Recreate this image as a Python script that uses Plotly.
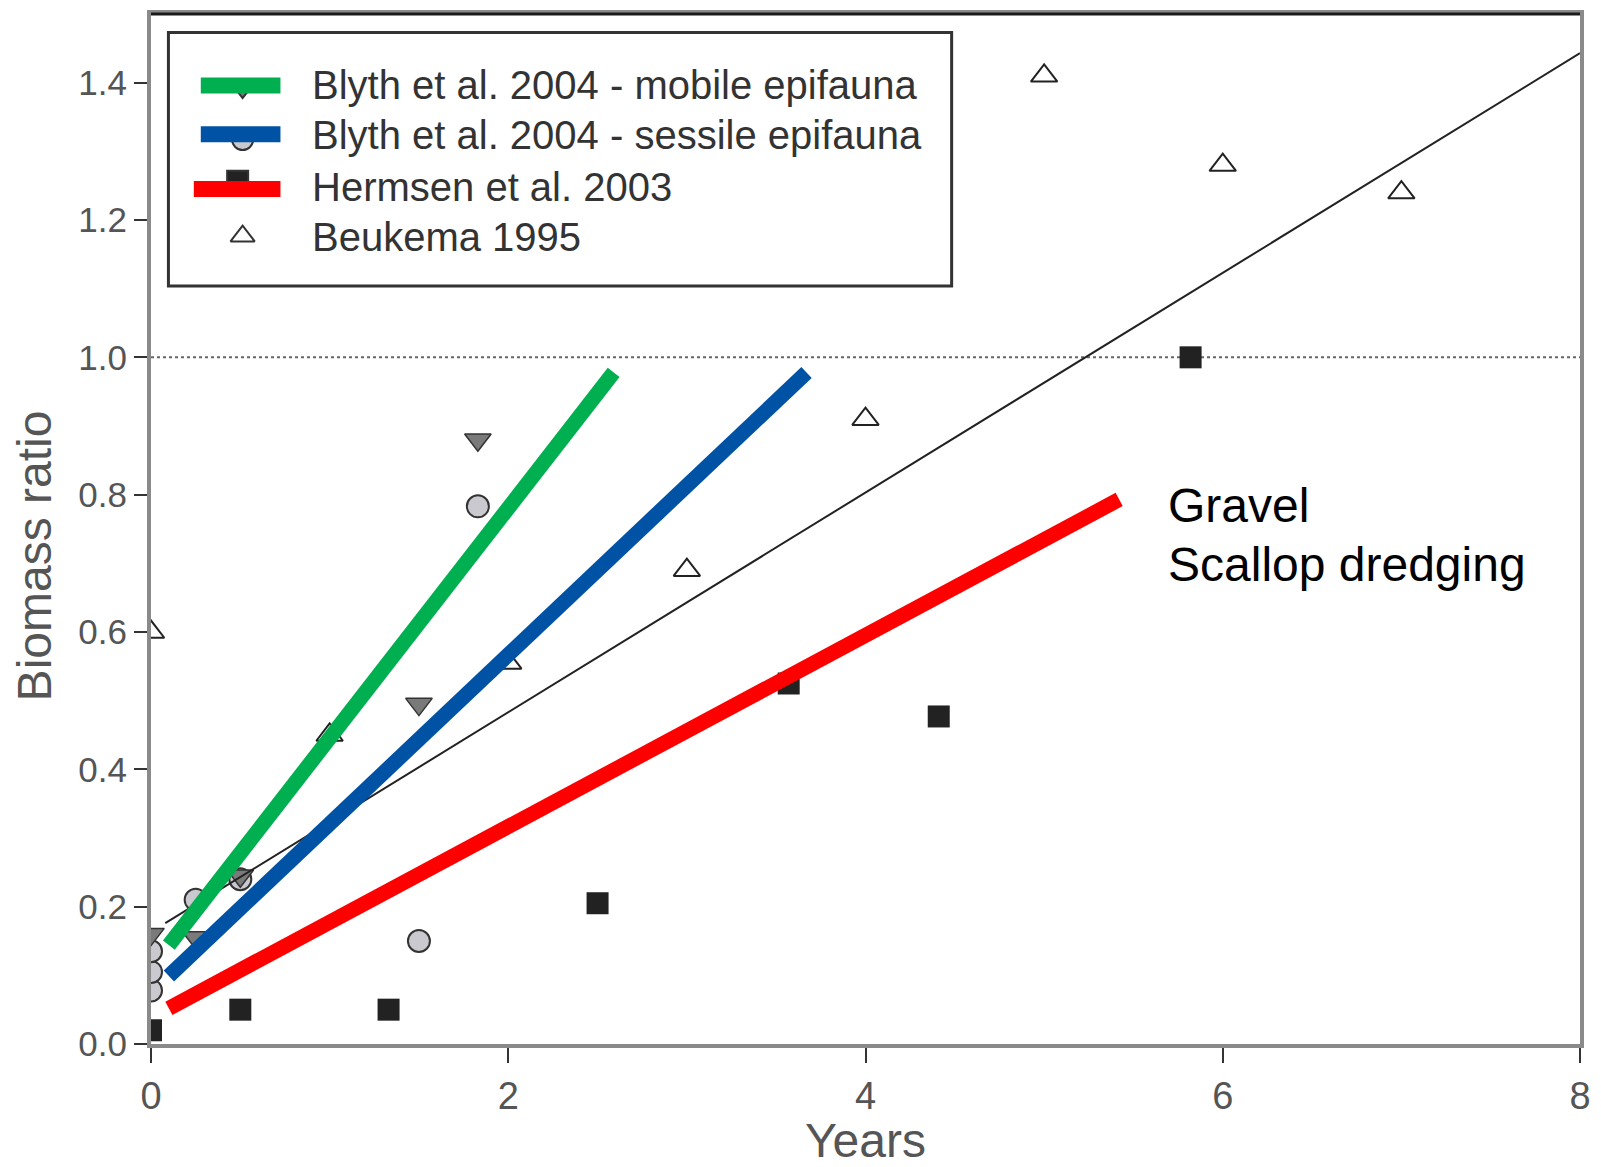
import plotly.graph_objects as go

# ---------------- data ----------------
beuk_x = [0.0, 1.0, 2.0, 3.0, 4.0, 5.0, 6.0, 7.0]
beuk_y = [0.60, 0.45, 0.555, 0.69, 0.91, 1.41, 1.28, 1.24]

mobile_x = [0.0, 0.25, 0.5, 1.5, 1.83]
mobile_y = [0.16, 0.155, 0.245, 0.495, 0.88]

sessile_x = [0.0, 0.0, 0.0, 0.25, 0.5, 1.5, 1.83]
sessile_y = [0.078, 0.105, 0.135, 0.21, 0.24, 0.15, 0.783]

hermsen_x = [0.0, 0.5, 1.33, 2.5, 3.57, 4.41, 5.82]
hermsen_y = [0.02, 0.05, 0.05, 0.205, 0.525, 0.477, 1.0]

fit_x = [0.08, 8.0]
fit_y = [0.176, 1.443]

green_x = [0.10, 2.59]
green_y = [0.144, 0.978]
blue_x = [0.10, 3.67]
blue_y = [0.099, 0.978]
red_x = [0.10, 5.42]
red_y = [0.052, 0.793]

ref_x = [0.0, 8.0]
ref_y = [1.0, 1.0]

x_ticks = [0, 2, 4, 6, 8]
y_ticks = [0.0, 0.2, 0.4, 0.6, 0.8, 1.0, 1.2, 1.4]
y_ticktext = ["0.0", "0.2", "0.4", "0.6", "0.8", "1.0", "1.2", "1.4"]

legend_labels = ["Blyth et al. 2004 - mobile epifauna",
                 "Blyth et al. 2004 - sessile epifauna",
                 "Hermsen et al. 2003",
                 "Beukema 1995"]
annot_lines = ["Gravel", "Scallop dredging"]

# ---------------- figure ----------------
W, H = 1601, 1167
ML, MR, MT, MB = 151, 15, 10, 123
PW, PH = W - ML - MR, H - MT - MB


def px(fx):
    return (fx - ML) / PW


def py(fy):
    return (H - MB - fy) / PH


GREEN = "#00B050"
BLUE = "#0052A5"
RED = "#FF0000"
FONT = "Arial, Liberation Sans, sans-serif"

fig = go.Figure()

# dotted reference line
fig.add_trace(go.Scatter(x=ref_x, y=ref_y, mode="lines",
                         line=dict(color="#666666", width=2, dash="dot"),
                         hoverinfo="skip"))

# markers
fig.add_trace(go.Scatter(x=beuk_x, y=beuk_y, mode="markers",
                         marker=dict(symbol="triangle-up", size=23, color="white",
                                     line=dict(color="#222222", width=2))))
fig.add_trace(go.Scatter(x=sessile_x, y=sessile_y, mode="markers",
                         marker=dict(symbol="circle", size=22, color="#C9C9CF",
                                     line=dict(color="#333333", width=2))))
fig.add_trace(go.Scatter(x=mobile_x, y=mobile_y, mode="markers",
                         marker=dict(symbol="triangle-down", size=23, color="#7A7A7A",
                                     line=dict(color="#333333", width=1.5))))
fig.add_trace(go.Scatter(x=hermsen_x, y=hermsen_y, mode="markers",
                         marker=dict(symbol="square", size=22, color="#222222",
                                     line=dict(color="#222222", width=0))))

# regression line (thin black)
fig.add_trace(go.Scatter(x=fit_x, y=fit_y, mode="lines",
                         line=dict(color="#222222", width=2)))

# thick coloured lines
for xs, ys, c in [(green_x, green_y, GREEN), (blue_x, blue_y, BLUE), (red_x, red_y, RED)]:
    fig.add_trace(go.Scatter(x=xs, y=ys, mode="lines", line=dict(color=c, width=15)))

# legend markers on an overlay axis in plot fraction coordinates
leg_mx = [px(243), px(243), px(238), px(243)]
leg_my = [py(84), py(136), py(178), py(233)]
leg_sym = ["triangle-down", "circle", "square", "triangle-up"]
leg_col = ["#7A7A7A", "#C9C9CF", "#222222", "white"]
fig.add_trace(go.Scatter(x=leg_mx, y=leg_my, mode="markers", xaxis="x2", yaxis="y2",
                         marker=dict(symbol=leg_sym, size=21, color=leg_col,
                                     line=dict(color="#333333", width=2))))

shapes = []
# legend box
shapes.append(dict(type="rect", xref="paper", yref="paper",
                   x0=px(168.5), x1=px(955), y0=py(283), y1=py(28.6),
                   line=dict(color="#333333", width=3), fillcolor="white", layer="below"))
# legend lines
for (x0, x1, yy, c) in [(201, 281, 81.7, GREEN), (201, 281, 130.7, BLUE), (194, 281, 185.8, RED)]:
    shapes.append(dict(type="line", xref="paper", yref="paper",
                       x0=px(x0), x1=px(x1), y0=py(yy), y1=py(yy),
                       line=dict(color=c, width=16), layer="above"))
# top frame line
shapes.append(dict(type="line", xref="paper", yref="paper", x0=0, x1=1, y0=1, y1=1,
                   line=dict(color="#1a1a1a", width=3), layer="above"))

annotations = []
for lab, yy in zip(legend_labels, [81.7, 131.7, 183.8, 233.8]):
    annotations.append(dict(text=lab, xref="paper", yref="paper", x=px(311), y=py(yy),
                            xanchor="left", yanchor="middle", showarrow=False,
                            font=dict(family=FONT, size=40, color="#333333")))
annotations.append(dict(text=annot_lines[0], x=5.68, y=0.784, xref="x", yref="y",
                        xanchor="left", yanchor="middle", showarrow=False,
                        font=dict(family=FONT, size=48, color="black")))
annotations.append(dict(text=annot_lines[1], x=5.68, y=0.699, xref="x", yref="y",
                        xanchor="left", yanchor="middle", showarrow=False,
                        font=dict(family=FONT, size=48, color="black")))
annotations.append(dict(text="Biomass ratio", xref="paper", yref="paper", x=px(34), y=py(554),
                        xanchor="center", yanchor="middle", textangle=-90, showarrow=False,
                        font=dict(family=FONT, size=48, color="#555555")))
annotations.append(dict(text="Years", xref="paper", yref="paper", x=px(868), y=py(1141),
                        xanchor="center", yanchor="middle", showarrow=False,
                        font=dict(family=FONT, size=48, color="#555555")))

fig.update_layout(
    width=W, height=H,
    margin=dict(l=ML, r=MR, t=MT, b=MB, pad=0),
    paper_bgcolor="white", plot_bgcolor="white",
    showlegend=False,
    shapes=shapes, annotations=annotations,
    xaxis=dict(range=[0, 8], tickvals=x_ticks, ticks="outside", ticklen=15, tickwidth=2,
               tickcolor="#333333", showline=True, linecolor="#8a8a8a", linewidth=4,
               mirror=True, showgrid=False, zeroline=False,
               tickfont=dict(family=FONT, size=38, color="#555555")),
    yaxis=dict(range=[0, 1.5], tickvals=y_ticks, ticktext=y_ticktext, ticks="outside",
               ticklen=13, tickwidth=2, tickcolor="#333333", showline=True,
               linecolor="#8a8a8a", linewidth=4, mirror=True, showgrid=False, zeroline=False,
               tickfont=dict(family=FONT, size=35, color="#555555")),
    xaxis2=dict(overlaying="x", range=[0, 1], visible=False),
    yaxis2=dict(overlaying="y", range=[0, 1], visible=False),
)

fig.write_html("out.html")
